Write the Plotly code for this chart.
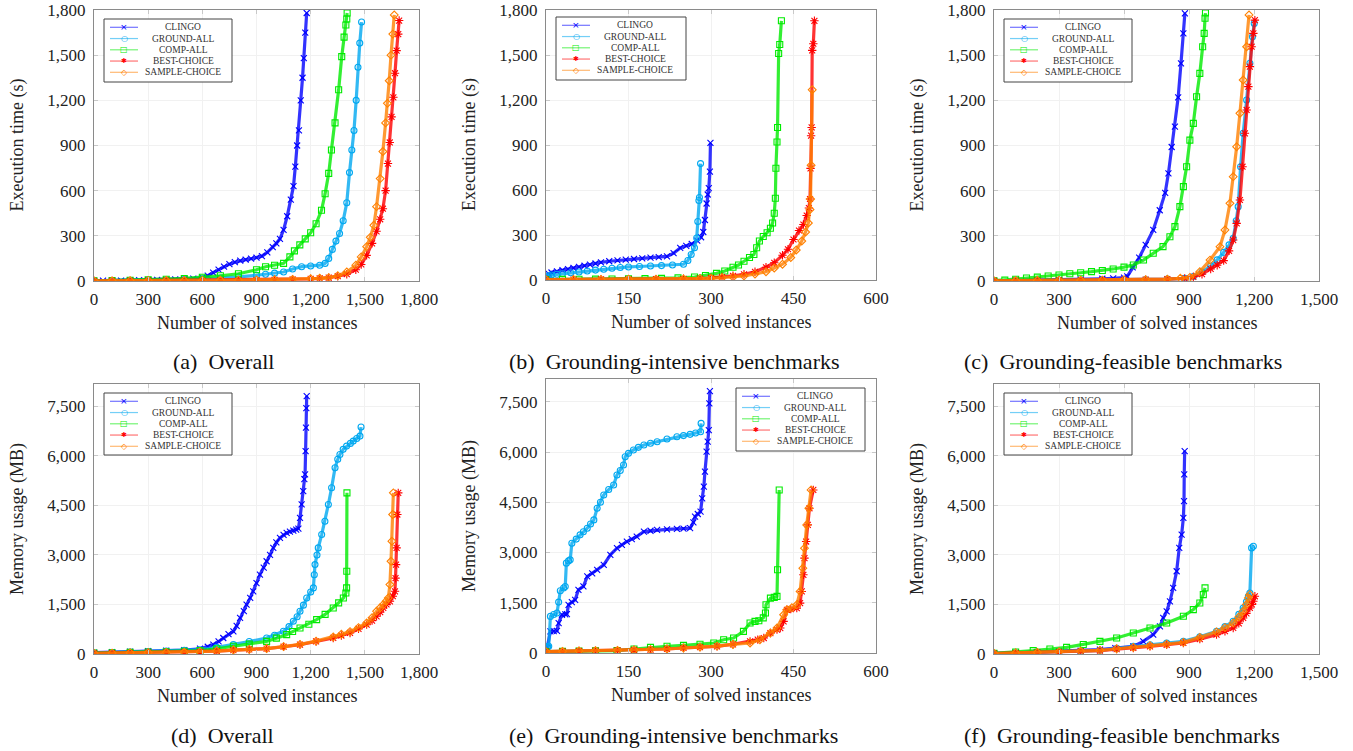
import plotly.graph_objects as go

# ---------------- data ----------------
SERIES = ["CLINGO", "GROUND-ALL", "COMP-ALL", "BEST-CHOICE", "SAMPLE-CHOICE"]

# (a) Overall - execution time (s)
A_CLINGO_X = [0, 50, 100, 150, 200, 250, 300, 350, 400, 450, 500, 550, 600, 630, 660, 690, 720, 750, 780, 810, 840, 870, 900, 930, 960, 990, 1010, 1030, 1050, 1070, 1090, 1105, 1115, 1125, 1135, 1145, 1155, 1162, 1170, 1178]
A_CLINGO_Y = [1, 2, 2, 3, 4, 5, 6, 7, 8, 10, 12, 16, 22, 35, 55, 75, 95, 112, 125, 135, 142, 148, 155, 165, 190, 225, 250, 280, 340, 430, 540, 630, 760, 900, 1000, 1200, 1350, 1480, 1650, 1780]
A_GROUND_X = [0, 100, 200, 300, 400, 500, 600, 700, 800, 900, 950, 1000, 1050, 1100, 1150, 1200, 1250, 1280, 1300, 1320, 1340, 1360, 1380, 1400, 1415, 1428, 1440, 1452, 1462, 1472, 1482]
A_GROUND_Y = [1, 2, 3, 5, 7, 10, 14, 20, 28, 38, 45, 52, 60, 80, 95, 100, 105, 117, 150, 210, 265, 315, 400, 520, 720, 870, 1000, 1200, 1420, 1580, 1720]
A_COMP_X = [0, 100, 200, 300, 400, 500, 600, 700, 800, 900, 950, 1000, 1050, 1085, 1110, 1140, 1170, 1200, 1230, 1260, 1280, 1300, 1315, 1335, 1355, 1372, 1385, 1395, 1400, 1402]
A_COMP_Y = [1, 3, 5, 8, 12, 17, 25, 35, 48, 75, 95, 105, 117, 160, 200, 240, 280, 320, 380, 470, 580, 715, 870, 1050, 1270, 1490, 1620, 1700, 1740, 1780]
A_BEST_X = [0, 100, 200, 300, 400, 500, 600, 700, 800, 900, 1000, 1100, 1200, 1250, 1300, 1350, 1400, 1450, 1480, 1510, 1540, 1565, 1585, 1600, 1615, 1628, 1638, 1648, 1658, 1667, 1676, 1685, 1690]
A_BEST_Y = [0, 1, 1, 2, 2, 3, 3, 4, 5, 6, 8, 10, 14, 18, 22, 32, 45, 75, 110, 170, 250, 330, 410, 480, 600, 780, 920, 1090, 1220, 1380, 1530, 1640, 1730]
A_SAMPLE_X = [0, 100, 200, 300, 400, 500, 600, 700, 800, 900, 1000, 1100, 1200, 1250, 1300, 1350, 1400, 1450, 1480, 1510, 1530, 1550, 1565, 1585, 1600, 1615, 1625, 1635, 1645, 1655, 1663]
A_SAMPLE_Y = [1, 1, 2, 2, 3, 3, 4, 5, 6, 7, 9, 11, 15, 18, 22, 35, 60, 105, 160, 228, 290, 370, 494, 680, 860, 1050, 1180, 1330, 1500, 1640, 1767]

# (b) Grounding-intensive - execution time (s)
B_CLINGO_X = [0, 5, 10, 20, 30, 40, 50, 60, 70, 80, 90, 100, 115, 130, 145, 160, 175, 190, 205, 220, 232, 244, 255, 265, 275, 282, 286, 289, 292, 294, 296, 298, 299]
B_CLINGO_Y = [20, 40, 50, 58, 65, 72, 80, 88, 95, 102, 110, 118, 125, 131, 136, 140, 144, 149, 152, 157, 179, 214, 228, 240, 262, 285, 320, 400, 510, 570, 612, 722, 914]
B_GROUND_X = [0, 5, 10, 20, 30, 45, 60, 75, 90, 105, 120, 135, 150, 170, 190, 210, 230, 250, 258, 264, 270, 274, 276, 278, 279, 281]
B_GROUND_Y = [20, 28, 33, 38, 42, 48, 53, 60, 66, 72, 78, 83, 87, 90, 93, 96, 100, 105, 130, 170, 215, 280, 390, 530, 550, 776]
B_COMP_X = [0, 30, 60, 90, 120, 150, 180, 210, 240, 270, 290, 310, 325, 340, 350, 360, 370, 378, 383, 388, 395, 402, 408, 412, 415, 417, 418, 420, 421, 423, 425, 428]
B_COMP_Y = [3, 4, 5, 6, 7, 8, 9, 11, 14, 20, 30, 44, 60, 85, 100, 125, 150, 170, 215, 260, 290, 315, 345, 380, 445, 545, 745, 920, 1017, 1510, 1570, 1728]
B_BEST_X = [0, 50, 100, 150, 200, 250, 280, 300, 320, 340, 360, 380, 400, 415, 430, 440, 450, 460, 468, 474, 478, 480, 481, 482, 483, 484, 486, 488]
B_BEST_Y = [2, 3, 4, 5, 6, 8, 10, 14, 20, 28, 38, 55, 85, 115, 165, 205, 270, 330, 370, 430, 480, 540, 744, 962, 1017, 1531, 1575, 1728]
B_SAMPLE_X = [0, 50, 100, 150, 200, 250, 280, 300, 320, 340, 360, 380, 400, 415, 430, 445, 455, 465, 472, 477, 480, 481, 482, 484]
B_SAMPLE_Y = [2, 3, 4, 5, 6, 7, 9, 11, 15, 20, 27, 40, 55, 80, 105, 150, 200, 260, 320, 380, 470, 540, 765, 1268]

# (c) Grounding-feasible - execution time (s)
C_CLINGO_X = [0, 100, 200, 300, 400, 500, 550, 600, 615, 640, 670, 700, 735, 765, 790, 805, 820, 835, 850, 863, 874, 881]
C_CLINGO_Y = [1, 3, 5, 8, 11, 15, 18, 22, 30, 90, 155, 240, 339, 470, 585, 715, 890, 1025, 1220, 1446, 1645, 1778]
C_GROUND_X = [0, 100, 200, 300, 400, 500, 600, 700, 800, 880, 920, 960, 1000, 1030, 1060, 1085, 1104, 1118, 1127, 1138, 1150, 1166, 1181, 1193, 1201]
C_GROUND_Y = [1, 2, 3, 4, 5, 6, 8, 10, 13, 18, 30, 60, 100, 140, 190, 240, 283, 400, 494, 759, 981, 1202, 1446, 1623, 1711]
C_COMP_X = [0, 50, 100, 150, 200, 250, 300, 350, 400, 450, 500, 550, 600, 643, 690, 735, 780, 812, 835, 858, 874, 889, 904, 920, 935, 950, 963, 970, 974, 976]
C_COMP_Y = [2, 6, 12, 20, 26, 33, 40, 48, 55, 62, 70, 80, 92, 106, 139, 184, 228, 294, 361, 494, 627, 759, 936, 1047, 1224, 1379, 1556, 1645, 1745, 1780]
C_BEST_X = [0, 100, 200, 300, 400, 500, 600, 700, 800, 880, 920, 960, 1000, 1030, 1060, 1085, 1104, 1120, 1135, 1147, 1158, 1166, 1174, 1181, 1189, 1197, 1204]
C_BEST_Y = [1, 2, 3, 4, 5, 6, 7, 9, 12, 17, 28, 45, 80, 105, 135, 200, 272, 383, 538, 759, 981, 1136, 1291, 1424, 1556, 1645, 1733]
C_SAMPLE_X = [0, 100, 200, 300, 400, 500, 600, 700, 800, 860, 904, 950, 997, 1043, 1066, 1089, 1104, 1120, 1135, 1150, 1166, 1177]
C_SAMPLE_Y = [1, 2, 3, 4, 5, 6, 7, 9, 12, 18, 24, 62, 139, 228, 339, 516, 693, 892, 1114, 1335, 1556, 1767]

# (d) Overall - memory usage (MB)
D_CLINGO_X = [0, 100, 200, 300, 400, 500, 587, 630, 661, 690, 716, 745, 772, 790, 809, 830, 845, 865, 882, 900, 919, 940, 956, 975, 993, 1010, 1030, 1050, 1067, 1085, 1104, 1120, 1132, 1141, 1150, 1159, 1165, 1169, 1172, 1174, 1176, 1178]
D_CLINGO_Y = [40, 55, 70, 85, 100, 120, 160, 220, 283, 380, 485, 600, 687, 850, 1092, 1300, 1496, 1700, 1900, 2150, 2406, 2620, 2810, 3000, 3215, 3380, 3518, 3610, 3670, 3710, 3740, 3770, 3800, 4125, 4530, 4934, 5300, 5439, 6147, 6855, 7450, 7815]
D_GROUND_X = [0, 100, 200, 300, 400, 500, 587, 680, 772, 860, 956, 1000, 1049, 1080, 1104, 1125, 1141, 1160, 1178, 1200, 1215, 1220, 1224, 1235, 1242, 1261, 1279, 1298, 1316, 1335, 1350, 1362, 1380, 1399, 1420, 1436, 1455, 1473, 1479]
D_GROUND_Y = [30, 45, 60, 75, 90, 110, 131, 200, 283, 380, 485, 570, 687, 830, 991, 1130, 1294, 1480, 1698, 1880, 2002, 2400, 2709, 3000, 3215, 3619, 4024, 4530, 5035, 5641, 5900, 6046, 6200, 6299, 6380, 6450, 6530, 6602, 6875]
D_COMP_X = [0, 100, 200, 300, 400, 500, 587, 680, 772, 860, 956, 1010, 1067, 1100, 1141, 1190, 1233, 1280, 1325, 1355, 1381, 1395, 1399, 1400, 1401]
D_COMP_Y = [30, 40, 50, 60, 70, 85, 101, 160, 233, 300, 384, 480, 586, 680, 789, 900, 1041, 1200, 1395, 1550, 1698, 1850, 2002, 2507, 4883]
D_BEST_X = [0, 100, 200, 300, 400, 500, 587, 680, 772, 860, 956, 1050, 1141, 1230, 1325, 1370, 1418, 1465, 1510, 1540, 1565, 1585, 1602, 1620, 1639, 1655, 1667, 1670, 1673, 1676, 1680, 1685]
D_BEST_Y = [20, 28, 35, 42, 48, 55, 61, 90, 120, 140, 162, 220, 283, 380, 485, 560, 637, 760, 890, 1010, 1142, 1270, 1395, 1500, 1597, 1750, 1900, 2300, 2709, 3215, 4226, 4883]
D_SAMPLE_X = [0, 100, 200, 300, 400, 500, 587, 680, 772, 860, 956, 1050, 1141, 1230, 1325, 1370, 1418, 1465, 1510, 1540, 1565, 1585, 1602, 1618, 1630, 1639, 1645, 1650, 1654, 1658]
D_SAMPLE_Y = [20, 28, 35, 42, 48, 55, 61, 90, 120, 140, 165, 225, 290, 390, 516, 600, 680, 800, 940, 1100, 1294, 1400, 1496, 1600, 1698, 2103, 2810, 3417, 4226, 4883]

# (e) Grounding-intensive - memory usage (MB)
E_CLINGO_X = [0, 2, 8, 14, 20, 23, 29, 35, 38, 41, 47, 53, 59, 68, 75, 84, 93, 105, 117, 129, 138, 147, 156, 165, 178, 190, 202, 220, 238, 250, 262, 268, 271, 276, 281, 284, 287, 289, 292, 294, 296, 297, 298]
E_CLINGO_Y = [100, 149, 646, 650, 660, 894, 1142, 1150, 1160, 1440, 1520, 1589, 1887, 1987, 2285, 2380, 2484, 2632, 2930, 3129, 3230, 3328, 3400, 3477, 3626, 3650, 3676, 3690, 3705, 3715, 3725, 3900, 4073, 4150, 4222, 4619, 4967, 5414, 6010, 6308, 6656, 7450, 7818]
E_GROUND_X = [0, 3, 5, 8, 14, 20, 23, 26, 32, 35, 37, 41, 44, 47, 55, 62, 68, 75, 81, 87, 93, 99, 105, 114, 123, 129, 135, 141, 144, 150, 159, 168, 178, 190, 202, 220, 238, 250, 262, 272, 281, 282]
E_GROUND_Y = [150, 190, 199, 1093, 1150, 1192, 1520, 1858, 1940, 1987, 2682, 2750, 2781, 3278, 3400, 3527, 3620, 3725, 3850, 3974, 4321, 4500, 4719, 4880, 5017, 5315, 5450, 5613, 5861, 5960, 6060, 6140, 6209, 6260, 6308, 6390, 6457, 6490, 6527, 6570, 6606, 6855]
E_COMP_X = [0, 30, 60, 90, 129, 160, 190, 220, 250, 280, 305, 323, 341, 359, 371, 380, 387, 395, 399, 400, 408, 415, 420, 421, 424]
E_COMP_Y = [40, 50, 55, 62, 70, 120, 169, 200, 228, 260, 298, 397, 447, 646, 894, 944, 963, 1050, 1192, 1440, 1639, 1660, 1689, 2484, 4868]
E_BEST_X = [0, 30, 60, 90, 130, 160, 190, 220, 250, 280, 311, 340, 371, 385, 396, 408, 420, 426, 432, 438, 445, 456, 462, 465, 468, 470, 473, 476, 479, 486]
E_BEST_Y = [40, 50, 60, 70, 80, 90, 99, 120, 150, 175, 199, 260, 348, 400, 447, 596, 700, 745, 944, 1291, 1310, 1341, 1490, 1838, 2335, 2831, 3328, 3825, 4321, 4868]
E_SAMPLE_X = [0, 30, 60, 90, 130, 160, 190, 220, 250, 280, 311, 340, 371, 389, 408, 420, 432, 438, 447, 456, 462, 467, 470, 474, 478, 482]
E_SAMPLE_Y = [40, 50, 60, 70, 80, 90, 100, 120, 150, 175, 205, 255, 298, 397, 596, 745, 1142, 1291, 1350, 1440, 1838, 2533, 3129, 3825, 4321, 4868]

# (f) Grounding-feasible - memory usage (MB)
F_CLINGO_X = [0, 100, 200, 300, 400, 489, 560, 643, 689, 735, 766, 781, 797, 812, 827, 843, 855, 866, 874, 877, 878, 880]
F_CLINGO_Y = [20, 40, 60, 80, 100, 131, 180, 233, 384, 586, 839, 1092, 1294, 1597, 2002, 2507, 3215, 3619, 4125, 4630, 5439, 6147]
F_GROUND_X = [0, 100, 200, 300, 400, 489, 566, 643, 720, 797, 874, 950, 1027, 1066, 1104, 1130, 1150, 1165, 1174, 1181, 1189, 1197]
F_GROUND_Y = [15, 30, 45, 65, 85, 110, 170, 233, 280, 330, 384, 520, 687, 830, 991, 1200, 1395, 1580, 1749, 1850, 3215, 3266]
F_COMP_X = [0, 100, 181, 258, 335, 412, 489, 566, 643, 720, 797, 874, 920, 950, 966, 974]
F_COMP_Y = [20, 60, 101, 150, 202, 290, 384, 485, 637, 789, 940, 1142, 1345, 1547, 1800, 2002]
F_BEST_X = [0, 100, 200, 300, 400, 489, 566, 643, 720, 797, 874, 950, 1027, 1066, 1104, 1130, 1150, 1165, 1181, 1190, 1197, 1204]
F_BEST_Y = [15, 30, 45, 60, 80, 105, 150, 182, 230, 280, 334, 450, 586, 690, 789, 930, 1092, 1230, 1395, 1500, 1597, 1749]
F_SAMPLE_X = [0, 100, 200, 300, 400, 489, 566, 643, 720, 797, 874, 950, 1027, 1066, 1104, 1130, 1150, 1165, 1174, 1181]
F_SAMPLE_Y = [15, 30, 45, 62, 82, 110, 160, 202, 250, 300, 354, 500, 667, 800, 940, 1120, 1294, 1500, 1698, 1800]

CAPTIONS = ["(a)\u00a0\u00a0Overall", "(b)\u00a0\u00a0Grounding-intensive benchmarks",
            "(c)\u00a0\u00a0Grounding-feasible benchmarks", "(d)\u00a0\u00a0Overall",
            "(e)\u00a0\u00a0Grounding-intensive benchmarks", "(f)\u00a0\u00a0Grounding-feasible benchmarks"]
Y_TITLES = ["Execution time (s)"] * 3 + ["Memory usage (MB)"] * 3
X_TITLE = "Number of solved instances"
X_MAX = [1800, 600, 1500, 1800, 600, 1500]
X_DTICK = [300, 150, 300, 300, 150, 300]
Y_MAX = [1800, 1800, 1800, 8180, 8180, 8180]
Y_DTICK = [300, 300, 300, 1500, 1500, 1500]

PANEL_DATA = [
    [(A_CLINGO_X, A_CLINGO_Y), (A_GROUND_X, A_GROUND_Y), (A_COMP_X, A_COMP_Y), (A_BEST_X, A_BEST_Y), (A_SAMPLE_X, A_SAMPLE_Y)],
    [(B_CLINGO_X, B_CLINGO_Y), (B_GROUND_X, B_GROUND_Y), (B_COMP_X, B_COMP_Y), (B_BEST_X, B_BEST_Y), (B_SAMPLE_X, B_SAMPLE_Y)],
    [(C_CLINGO_X, C_CLINGO_Y), (C_GROUND_X, C_GROUND_Y), (C_COMP_X, C_COMP_Y), (C_BEST_X, C_BEST_Y), (C_SAMPLE_X, C_SAMPLE_Y)],
    [(D_CLINGO_X, D_CLINGO_Y), (D_GROUND_X, D_GROUND_Y), (D_COMP_X, D_COMP_Y), (D_BEST_X, D_BEST_Y), (D_SAMPLE_X, D_SAMPLE_Y)],
    [(E_CLINGO_X, E_CLINGO_Y), (E_GROUND_X, E_GROUND_Y), (E_COMP_X, E_COMP_Y), (E_BEST_X, E_BEST_Y), (E_SAMPLE_X, E_SAMPLE_Y)],
    [(F_CLINGO_X, F_CLINGO_Y), (F_GROUND_X, F_GROUND_Y), (F_COMP_X, F_COMP_Y), (F_BEST_X, F_BEST_Y), (F_SAMPLE_X, F_SAMPLE_Y)],
]

# ---------------- styles / layout ----------------
W, H = 1353, 751
COLORS = [(0, 0, 255), (0, 168, 240), (0, 235, 0), (255, 0, 0), (255, 128, 0)]
SYMBOLS = ["x-thin-open", "circle-open", "square-open", "asterisk-open", "diamond-open"]
MSIZE = [6, 6, 6, 7, 6]
GLYPHS = ["\u00d7", "\u25cb", "\u25a1", "\u2731", "\u25c7"]
GLYPH_SIZE = [9, 8, 8, 7, 8]

# plot-area pixel boxes (left, top, right, bottom)
BOXES = [(94, 10, 419, 281), (546, 10, 876, 280), (994, 10, 1319, 281),
         (94, 384, 419, 654), (546, 379, 876, 653), (994, 384, 1319, 654)]
# legend boxes (left, top, right, bottom)
LEGENDS = [(104, 19, 232, 82), (556, 17, 686, 80), (1004, 19, 1132, 82),
           (104, 393, 232, 455), (736, 388, 865, 451), (1004, 393, 1132, 455)]
CAP_POS = [(223, 361), (674, 361), (1123, 361), (222, 735), (673, 735), (1122, 735)]

SERIF = "Liberation Serif"


def fx(p):
    return p / W


def fy(p):
    return 1 - p / H


def rgb(c, a=1.0):
    return f"rgba({c[0]},{c[1]},{c[2]},{a})"


fig = go.Figure()
annotations = []
shapes = []

for i in range(6):
    ax = "" if i == 0 else str(i + 1)
    l, t, r, b = BOXES[i]
    for s in range(5):
        xs, ys = PANEL_DATA[i][s]
        fig.add_trace(go.Scatter(
            x=xs, y=ys, mode="lines+markers", name=SERIES[s], showlegend=False,
            xaxis="x" + ax, yaxis="y" + ax, cliponaxis=True,
            line=dict(color=rgb(COLORS[s], 0.8), width=3.2),
            marker=dict(symbol=SYMBOLS[s], size=MSIZE[s], color=rgb(COLORS[s]),
                        line=dict(width=1.1, color=rgb(COLORS[s]))),
        ))
    axis_common = dict(showline=True, linecolor="#8a8a8a", linewidth=1, mirror="ticks",
                       ticks="inside", ticklen=4, tickcolor="#c8c8c8", tickwidth=1,
                       showgrid=True, gridcolor="#f1f1f1", gridwidth=1, zeroline=False,
                       tickfont=dict(family=SERIF, size=17, color="#222"),
                       tickformat=",", fixedrange=True, automargin=False,
                       ticklabeloverflow="allow")
    fig.update_layout(**{
        "xaxis" + ax: dict(axis_common, domain=[fx(l), fx(r)], range=[0, X_MAX[i]],
                           tick0=0, dtick=X_DTICK[i], anchor="y" + ax, ticklabelstandoff=3),
        "yaxis" + ax: dict(axis_common, domain=[fy(b), fy(t)], range=[0, Y_MAX[i]],
                           tick0=0, dtick=Y_DTICK[i], anchor="x" + ax, ticklabelstandoff=4),
    })
    # axis titles
    annotations.append(dict(text=Y_TITLES[i], xref="paper", yref="paper",
                            x=fx(l - 77), y=fy((t + b) / 2), textangle=-90, showarrow=False,
                            xanchor="center", yanchor="middle",
                            font=dict(family=SERIF, size=18, color="#222")))
    annotations.append(dict(text=X_TITLE, xref="paper", yref="paper",
                            x=fx((l + r) / 2), y=fy(b + 42), showarrow=False,
                            xanchor="center", yanchor="middle",
                            font=dict(family=SERIF, size=18, color="#222")))
    # caption
    cx, cy = CAP_POS[i]
    annotations.append(dict(text=CAPTIONS[i], xref="paper", yref="paper", x=fx(cx), y=fy(cy),
                            showarrow=False, xanchor="center", yanchor="middle",
                            font=dict(family=SERIF, size=22, color="#111")))
    # legend box
    ll, lt, lr, lb = LEGENDS[i]
    shapes.append(dict(type="rect", xref="paper", yref="paper", x0=fx(ll), x1=fx(lr),
                       y0=fy(lb), y1=fy(lt), line=dict(color="#444", width=1),
                       fillcolor="white", layer="above"))
    for s in range(5):
        ry = lt + 8.3 + s * 11.25
        shapes.append(dict(type="line", xref="paper", yref="paper", x0=fx(ll + 6), x1=fx(ll + 34),
                           y0=fy(ry), y1=fy(ry), line=dict(color=rgb(COLORS[s], 0.55), width=1.2),
                           layer="above"))
        annotations.append(dict(text=GLYPHS[s], xref="paper", yref="paper", x=fx(ll + 20), y=fy(ry),
                                showarrow=False, xanchor="center", yanchor="middle", borderpad=0,
                                font=dict(family="DejaVu Sans", size=GLYPH_SIZE[s], color=rgb(COLORS[s]))))
        annotations.append(dict(text=SERIES[s], xref="paper", yref="paper", x=fx(ll + 79), y=fy(ry),
                                showarrow=False, xanchor="center", yanchor="middle", borderpad=0,
                                font=dict(family=SERIF, size=9.5, color="#333")))

fig.update_layout(width=W, height=H, margin=dict(l=0, r=0, t=0, b=0, autoexpand=False),
                  paper_bgcolor="white", plot_bgcolor="white", showlegend=False,
                  annotations=annotations, shapes=shapes)

fig.write_html("out.html", config={"displayModeBar": False, "staticPlot": True},
               post_script="document.body.style.margin='0';document.body.style.overflow='hidden';")
